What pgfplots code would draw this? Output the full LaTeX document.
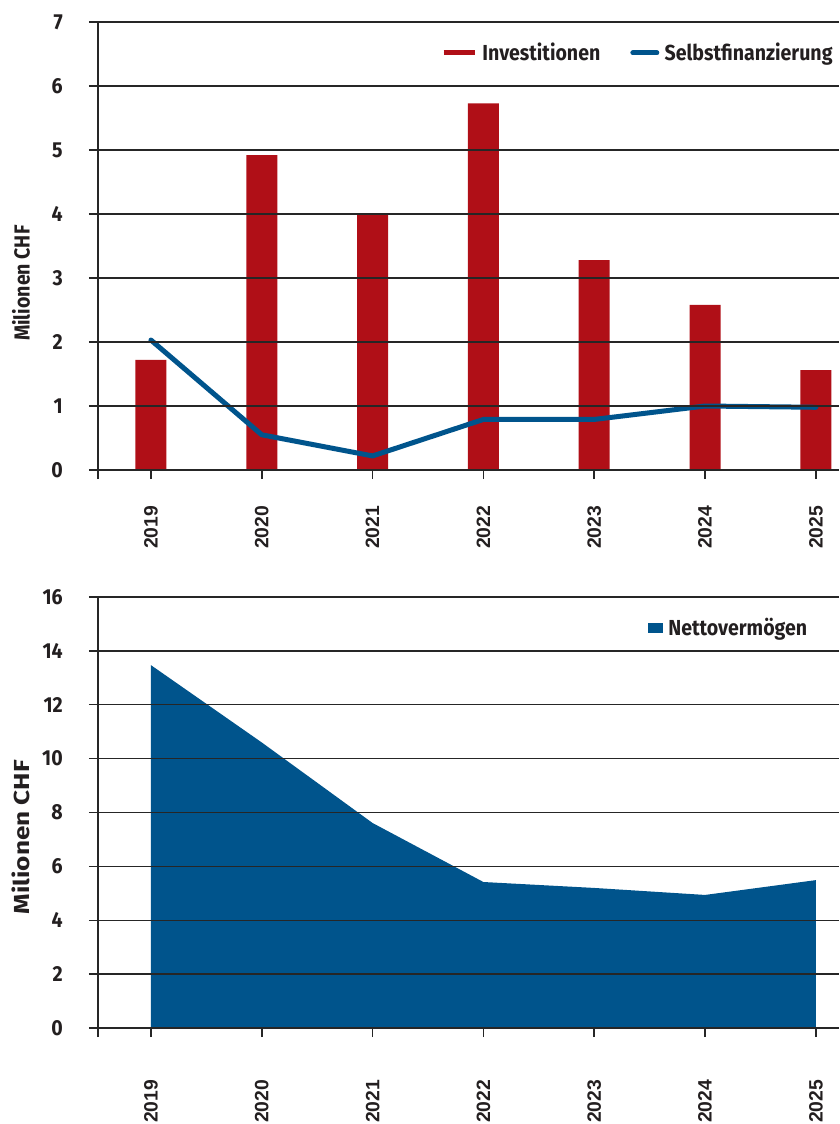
\documentclass[border=0pt]{standalone}
\usepackage{pgfplots}
\pgfplotsset{compat=1.18}
\usepackage{pgfplotstable}
\usepackage{fontspec}
\setmainfont{Fira Sans}[FakeStretch=0.9]
\newfontfamily\widefont{Fira Sans}[FakeStretch=1.2]
\newfontfamily\tickfont{Liberation Sans}
\definecolor{invred}{HTML}{B00F17}
\definecolor{selblue}{HTML}{00548C}
\definecolor{txt}{HTML}{231F20}
\definecolor{gridc}{HTML}{262626}

\pgfplotstableread{
x inv sel net
0 1.72 2.03 13.47
1 4.92 0.55 10.60
2 3.99 0.22 7.61
3 5.73 0.79 5.42
4 3.28 0.79 5.20
5 2.58 1.00 4.94
6 1.56 0.98 5.49
}\data

\pgfplotsset{
  common/.style={
    scale only axis, width=555.75pt,
    xmin=-0.478, xmax=6.209,
    axis y line*=left, axis x line*=bottom,
    axis line style={gridc, line width=1.1pt},
    xtick={0,...,6}, xticklabels={2019,2020,2021,2022,2023,2024,2025},
    extra x ticks={-0.478}, extra x tick labels={},
    extra x tick style={grid=none},
    tick align=outside, major tick length=6.75pt,
    tick style={gridc, line width=1.1pt},
    ymajorgrids, grid style={gridc, line width=1.1pt},
    axis on top,
    /pgf/number format/assume math mode=true,
    xticklabel style={font=\tickfont\bfseries\fontsize{14.5}{17}\selectfont, text=txt, rotate=90, anchor=east, inner sep=0pt},
    yticklabel style={font=\bfseries\fontsize{16.3}{19}\selectfont, text=txt, anchor=east, inner sep=0pt},
    yticklabel shift=19.5pt,
    ylabel={Milionen CHF},
    legend style={draw=none, fill=none, inner sep=0pt, font=\bfseries\fontsize{16.3}{19}\selectfont, text=txt,
      nodes={inner sep=0pt},
      /tikz/every odd column/.append style={column sep=4pt},
      /tikz/every even column/.append style={column sep=22.5pt}},
    legend cell align=left,
  }
}

\begin{document}
\begin{tikzpicture}
\useasboundingbox (0,0) rectangle (629.25pt,-843pt);
\clip (0,0) rectangle (629.25pt,-843pt);

\begin{axis}[common,
  at={(73.5pt,-352.5pt)}, anchor=south west, height=336pt,
  ymin=0, ymax=7, ytick={0,1,...,7},
  xticklabel shift=20pt,
  ylabel style={font=\bfseries\fontsize{16.3}{19}\selectfont, text=txt, at={(axis description cs:-0.1039,0.417)}, anchor=center},
  legend columns=2,
  legend style={at={(0.4626,0.931)}, anchor=west},
]
\addplot[ybar, bar width=23.25pt, bar shift=0pt, fill=invred, draw=none,
  legend image code/.code={\draw[line width=3.75pt, invred] (0pt,0pt) -- (23.25pt,0pt);}]
  table[x=x, y=inv]{\data};
\addlegendentry{Investitionen}
\addplot[selblue, line width=3.75pt, line join=round, line cap=round, mark=none,
  legend image code/.code={\draw[line width=3.75pt, line cap=round, selblue] (1.9pt,0pt) -- (19.9pt,0pt);}]
  table[x=x, y=sel]{\data};
\addlegendentry{Selbstfinanzierung}
\end{axis}

\begin{axis}[common,
  at={(73.5pt,-771pt)}, anchor=south west, height=323.25pt,
  ymin=0, ymax=16, ytick={0,2,...,16},
  xticklabel shift=32pt,
  ylabel style={font=\widefont\bfseries\fontsize{16.3}{19}\selectfont, text=txt, at={(axis description cs:-0.1039,0.443)}, anchor=center},
  legend style={at={(0.742,0.928)}, anchor=west},
]
\addplot[fill=selblue, draw=none,
  legend image code/.code={\fill[selblue] (0pt,-3.75pt) rectangle (11.25pt,3.75pt);}]
  table[x=x, y=net]{\data} \closedcycle;
\addlegendentry{Nettovermögen}
\end{axis}
\end{tikzpicture}
\end{document}
